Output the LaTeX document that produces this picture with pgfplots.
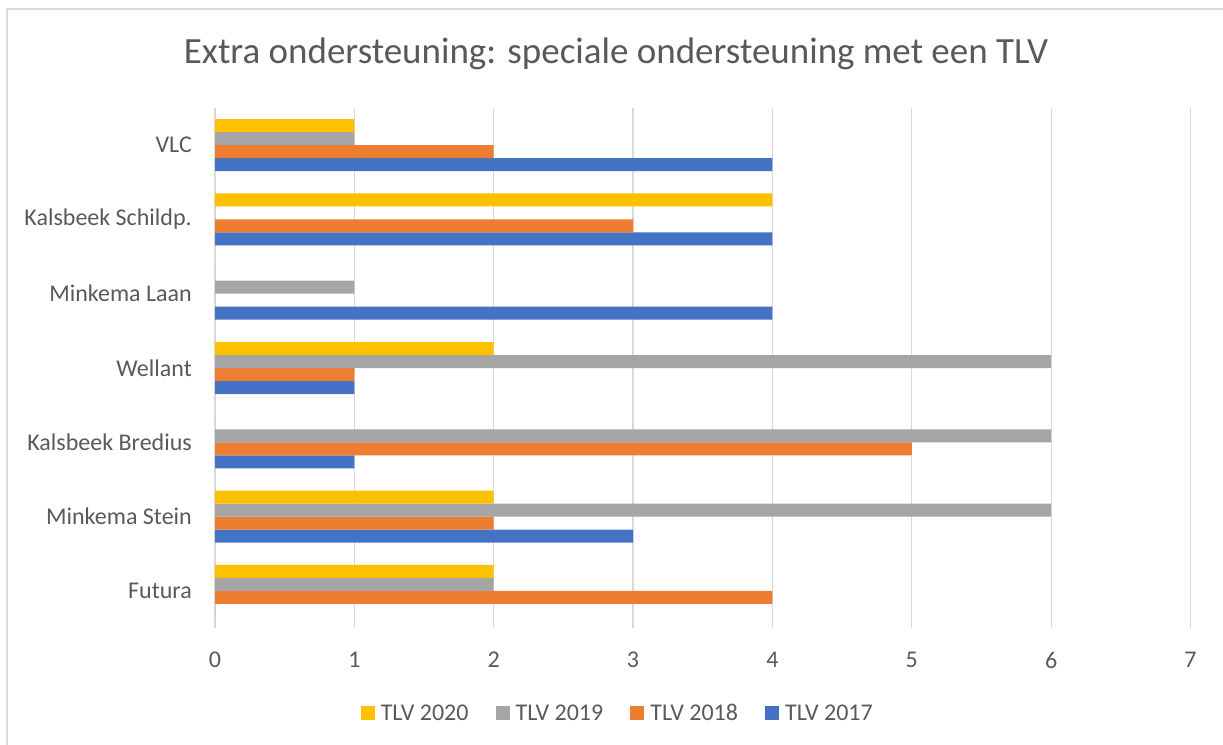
\documentclass[border=0pt]{standalone}
\usepackage{pgfplots}
\pgfplotsset{compat=1.18}
\usepackage{fontspec}
\setmainfont{Carlito}
\definecolor{cA}{HTML}{4472C4}
\definecolor{cB}{HTML}{ED7D31}
\definecolor{cC}{HTML}{A5A5A5}
\definecolor{cD}{HTML}{FFC000}
\definecolor{txt}{HTML}{595959}
\definecolor{grd}{HTML}{D9D9D9}
\begin{document}
\begin{tikzpicture}
\path[use as bounding box] (0pt,0pt) rectangle (1223pt,744pt);
\draw[color=grd, line width=1.3pt] (7pt,-10pt) -- (7pt,735pt) -- (1240pt,735pt);
\node[anchor=base, text=txt, font=\fontsize{37}{44}\selectfont, inner sep=0pt] at (616pt,680pt) {Extra ondersteuning: speciale ondersteuning met een TLV};
\begin{axis}[
  at={(215pt,116pt)}, anchor=south west,
  scale only axis, width=975.5pt, height=520pt,
  xmin=0, xmax=7, ymin=-0.5, ymax=6.5,
  xbar, bar width=13pt,
  xtick={0,1,2,3,4,5,6,7},
  ytick={0,1,2,3,4,5,6},
  yticklabels={Futura,Minkema Stein,Kalsbeek Bredius,Wellant,Minkema Laan,Kalsbeek Schildp.,VLC},
  /pgf/number format/assume math mode=true,
  axis line style={draw=none},
  major tick length=0pt,
  xmajorgrids, major grid style={color=grd, line width=1.3pt},
  ticklabel style={font=\fontsize{24}{28}\selectfont, text=txt},
  yticklabel style={anchor=east, inner sep=0pt, xshift=-23pt},
  xticklabel style={anchor=center, inner sep=0pt, yshift=-32pt},
  reverse legend,
  legend columns=4,
  legend style={at={(0.415,-0.1635)}, anchor=center, draw=none, fill=none,
    font=\fontsize{24}{28}\selectfont, text=txt,
    /tikz/every even column/.append style={column sep=21pt},
    nodes={inner xsep=6pt, inner ysep=2pt}},
  legend image code/.code={\fill[#1] (0pt,-7pt) rectangle (14pt,7pt);},
]
\addplot[fill=cA, draw=none, bar shift=-19.5pt] coordinates {(0,0) (3,1) (1,2) (1,3) (4,4) (4,5) (4,6)};
\addplot[fill=cB, draw=none, bar shift=-6.5pt] coordinates {(4,0) (2,1) (5,2) (1,3) (0,4) (3,5) (2,6)};
\addplot[fill=cC, draw=none, bar shift=6.5pt] coordinates {(2,0) (6,1) (6,2) (6,3) (1,4) (0,5) (1,6)};
\addplot[fill=cD, draw=none, bar shift=19.5pt] coordinates {(2,0) (2,1) (0,2) (2,3) (0,4) (4,5) (1,6)};
\legend{TLV 2017,TLV 2018,TLV 2019,TLV 2020}
\end{axis}
\end{tikzpicture}
\end{document}
